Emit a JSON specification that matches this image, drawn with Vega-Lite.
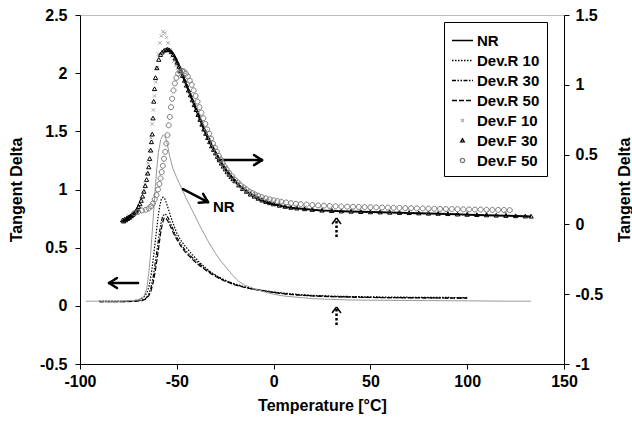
{
  "$schema": "https://vega.github.io/schema/vega-lite/v6.json",
  "width": 484,
  "height": 349,
  "autosize": {"type": "none"},
  "padding": {"left": 80, "top": 15, "right": 68, "bottom": 60},
  "background": "white",
  "config": {
    "view": {"stroke": "#bbbbbb", "strokeWidth": 1},
    "font": "Liberation Sans",
    "axis": {
      "labelFont": "Liberation Sans", "labelFontSize": 16, "labelFontWeight": "bold", "labelColor": "black",
      "titleFont": "Liberation Sans", "titleFontSize": 16, "titleFontWeight": "bold", "titleColor": "black",
      "domainColor": "black", "tickColor": "black", "grid": false, "tickSize": 5, "domainWidth": 1, "tickWidth": 1,
      "labelFlush": false, "labelOverlap": false
    }
  },
  "datasets": {
    "lo": [
      {"s":"NR","t":-97,"v":0.04},{"s":"NR","t":-90,"v":0.04},{"s":"NR","t":-80,"v":0.04},{"s":"NR","t":-75,"v":0.043},{"s":"NR","t":-70,"v":0.05},{"s":"NR","t":-67,"v":0.08},{"s":"NR","t":-65.5,"v":0.15},{"s":"NR","t":-64.5,"v":0.28},{"s":"NR","t":-63.5,"v":0.45},{"s":"NR","t":-62.5,"v":0.68},{"s":"NR","t":-61.5,"v":0.92},{"s":"NR","t":-60.5,"v":1.15},{"s":"NR","t":-59.5,"v":1.32},{"s":"NR","t":-58.3,"v":1.43},{"s":"NR","t":-57,"v":1.47},{"s":"NR","t":-56,"v":1.455},{"s":"NR","t":-55,"v":1.4},{"s":"NR","t":-53.6,"v":1.28},{"s":"NR","t":-52,"v":1.18},{"s":"NR","t":-50,"v":1.1},{"s":"NR","t":-47.5,"v":1.01},{"s":"NR","t":-45,"v":0.92},{"s":"NR","t":-42,"v":0.82},{"s":"NR","t":-38,"v":0.685},{"s":"NR","t":-34,"v":0.56},{"s":"NR","t":-30,"v":0.45},{"s":"NR","t":-27,"v":0.38},{"s":"NR","t":-24,"v":0.32},{"s":"NR","t":-21,"v":0.26},{"s":"NR","t":-18,"v":0.21},{"s":"NR","t":-15,"v":0.18},{"s":"NR","t":-12,"v":0.16},{"s":"NR","t":-8,"v":0.135},{"s":"NR","t":-4,"v":0.117},{"s":"NR","t":0,"v":0.1},{"s":"NR","t":5,"v":0.085},{"s":"NR","t":10,"v":0.077},{"s":"NR","t":15,"v":0.07},{"s":"NR","t":20,"v":0.062},{"s":"NR","t":30,"v":0.055},{"s":"NR","t":40,"v":0.05},{"s":"NR","t":60,"v":0.047},{"s":"NR","t":80,"v":0.045},{"s":"NR","t":100,"v":0.043},{"s":"NR","t":120,"v":0.04},{"s":"NR","t":133,"v":0.04},
      {"s":"Dev.R 10","t":-90,"v":0.04},{"s":"Dev.R 10","t":-85,"v":0.04},{"s":"Dev.R 10","t":-80,"v":0.04},{"s":"Dev.R 10","t":-75,"v":0.042},{"s":"Dev.R 10","t":-72,"v":0.045},{"s":"Dev.R 10","t":-69,"v":0.055},{"s":"Dev.R 10","t":-67,"v":0.075},{"s":"Dev.R 10","t":-65.5,"v":0.11},{"s":"Dev.R 10","t":-64.3,"v":0.17},{"s":"Dev.R 10","t":-63.3,"v":0.26},{"s":"Dev.R 10","t":-62.4,"v":0.37},{"s":"Dev.R 10","t":-61.5,"v":0.5},{"s":"Dev.R 10","t":-60.6,"v":0.63},{"s":"Dev.R 10","t":-59.7,"v":0.76},{"s":"Dev.R 10","t":-58.8,"v":0.86},{"s":"Dev.R 10","t":-58,"v":0.915},{"s":"Dev.R 10","t":-57.1,"v":0.934},{"s":"Dev.R 10","t":-56.2,"v":0.92},{"s":"Dev.R 10","t":-55.3,"v":0.88},{"s":"Dev.R 10","t":-54.3,"v":0.83},{"s":"Dev.R 10","t":-53,"v":0.76},{"s":"Dev.R 10","t":-51.5,"v":0.69},{"s":"Dev.R 10","t":-50,"v":0.625},{"s":"Dev.R 10","t":-48,"v":0.565},{"s":"Dev.R 10","t":-46,"v":0.52},{"s":"Dev.R 10","t":-44,"v":0.48},{"s":"Dev.R 10","t":-42,"v":0.44},{"s":"Dev.R 10","t":-40,"v":0.405},{"s":"Dev.R 10","t":-38,"v":0.37},{"s":"Dev.R 10","t":-35,"v":0.325},{"s":"Dev.R 10","t":-32,"v":0.285},{"s":"Dev.R 10","t":-29,"v":0.255},{"s":"Dev.R 10","t":-26,"v":0.228},{"s":"Dev.R 10","t":-23,"v":0.205},{"s":"Dev.R 10","t":-20,"v":0.188},{"s":"Dev.R 10","t":-16,"v":0.168},{"s":"Dev.R 10","t":-12,"v":0.152},{"s":"Dev.R 10","t":-8,"v":0.14},{"s":"Dev.R 10","t":-4,"v":0.129},{"s":"Dev.R 10","t":0,"v":0.12},{"s":"Dev.R 10","t":5,"v":0.11},{"s":"Dev.R 10","t":10,"v":0.102},{"s":"Dev.R 10","t":15,"v":0.095},{"s":"Dev.R 10","t":20,"v":0.09},{"s":"Dev.R 10","t":30,"v":0.084},{"s":"Dev.R 10","t":40,"v":0.08},{"s":"Dev.R 10","t":50,"v":0.077},{"s":"Dev.R 10","t":60,"v":0.075},{"s":"Dev.R 10","t":70,"v":0.074},{"s":"Dev.R 10","t":80,"v":0.072},{"s":"Dev.R 10","t":90,"v":0.072},{"s":"Dev.R 10","t":100,"v":0.071},
      {"s":"Dev.R 30","t":-90,"v":0.035},{"s":"Dev.R 30","t":-80,"v":0.035},{"s":"Dev.R 30","t":-72,"v":0.04},{"s":"Dev.R 30","t":-68,"v":0.05},{"s":"Dev.R 30","t":-66,"v":0.065},{"s":"Dev.R 30","t":-64.5,"v":0.1},{"s":"Dev.R 30","t":-63.3,"v":0.16},{"s":"Dev.R 30","t":-62.2,"v":0.25},{"s":"Dev.R 30","t":-61.2,"v":0.36},{"s":"Dev.R 30","t":-60.2,"v":0.48},{"s":"Dev.R 30","t":-59.2,"v":0.6},{"s":"Dev.R 30","t":-58.3,"v":0.7},{"s":"Dev.R 30","t":-57.3,"v":0.77},{"s":"Dev.R 30","t":-56.3,"v":0.79},{"s":"Dev.R 30","t":-55.3,"v":0.78},{"s":"Dev.R 30","t":-54.3,"v":0.75},{"s":"Dev.R 30","t":-53,"v":0.7},{"s":"Dev.R 30","t":-51.5,"v":0.64},{"s":"Dev.R 30","t":-50,"v":0.59},{"s":"Dev.R 30","t":-48,"v":0.535},{"s":"Dev.R 30","t":-46,"v":0.485},{"s":"Dev.R 30","t":-44,"v":0.45},{"s":"Dev.R 30","t":-42,"v":0.415},{"s":"Dev.R 30","t":-40,"v":0.385},{"s":"Dev.R 30","t":-38,"v":0.355},{"s":"Dev.R 30","t":-35,"v":0.315},{"s":"Dev.R 30","t":-32,"v":0.28},{"s":"Dev.R 30","t":-29,"v":0.25},{"s":"Dev.R 30","t":-26,"v":0.225},{"s":"Dev.R 30","t":-23,"v":0.205},{"s":"Dev.R 30","t":-20,"v":0.185},{"s":"Dev.R 30","t":-16,"v":0.165},{"s":"Dev.R 30","t":-12,"v":0.15},{"s":"Dev.R 30","t":-8,"v":0.137},{"s":"Dev.R 30","t":-4,"v":0.126},{"s":"Dev.R 30","t":0,"v":0.116},{"s":"Dev.R 30","t":5,"v":0.106},{"s":"Dev.R 30","t":10,"v":0.098},{"s":"Dev.R 30","t":15,"v":0.092},{"s":"Dev.R 30","t":20,"v":0.087},{"s":"Dev.R 30","t":30,"v":0.08},{"s":"Dev.R 30","t":40,"v":0.076},{"s":"Dev.R 30","t":50,"v":0.073},{"s":"Dev.R 30","t":60,"v":0.071},{"s":"Dev.R 30","t":70,"v":0.07},{"s":"Dev.R 30","t":80,"v":0.069},{"s":"Dev.R 30","t":90,"v":0.068},{"s":"Dev.R 30","t":100,"v":0.068},
      {"s":"Dev.R 50","t":-90,"v":0.035},{"s":"Dev.R 50","t":-80,"v":0.035},{"s":"Dev.R 50","t":-72,"v":0.038},{"s":"Dev.R 50","t":-68,"v":0.045},{"s":"Dev.R 50","t":-66,"v":0.058},{"s":"Dev.R 50","t":-64.5,"v":0.085},{"s":"Dev.R 50","t":-63.3,"v":0.13},{"s":"Dev.R 50","t":-62.2,"v":0.2},{"s":"Dev.R 50","t":-61.2,"v":0.29},{"s":"Dev.R 50","t":-60.2,"v":0.4},{"s":"Dev.R 50","t":-59.2,"v":0.52},{"s":"Dev.R 50","t":-58.3,"v":0.63},{"s":"Dev.R 50","t":-57.4,"v":0.71},{"s":"Dev.R 50","t":-56.5,"v":0.757},{"s":"Dev.R 50","t":-55.5,"v":0.75},{"s":"Dev.R 50","t":-54.5,"v":0.725},{"s":"Dev.R 50","t":-53.2,"v":0.68},{"s":"Dev.R 50","t":-51.7,"v":0.625},{"s":"Dev.R 50","t":-50,"v":0.57},{"s":"Dev.R 50","t":-48,"v":0.515},{"s":"Dev.R 50","t":-46,"v":0.47},{"s":"Dev.R 50","t":-44,"v":0.435},{"s":"Dev.R 50","t":-42,"v":0.4},{"s":"Dev.R 50","t":-40,"v":0.37},{"s":"Dev.R 50","t":-38,"v":0.343},{"s":"Dev.R 50","t":-35,"v":0.305},{"s":"Dev.R 50","t":-32,"v":0.272},{"s":"Dev.R 50","t":-29,"v":0.243},{"s":"Dev.R 50","t":-26,"v":0.218},{"s":"Dev.R 50","t":-23,"v":0.198},{"s":"Dev.R 50","t":-20,"v":0.18},{"s":"Dev.R 50","t":-16,"v":0.162},{"s":"Dev.R 50","t":-12,"v":0.147},{"s":"Dev.R 50","t":-8,"v":0.135},{"s":"Dev.R 50","t":-4,"v":0.124},{"s":"Dev.R 50","t":0,"v":0.114},{"s":"Dev.R 50","t":5,"v":0.104},{"s":"Dev.R 50","t":10,"v":0.096},{"s":"Dev.R 50","t":15,"v":0.09},{"s":"Dev.R 50","t":20,"v":0.085},{"s":"Dev.R 50","t":30,"v":0.079},{"s":"Dev.R 50","t":40,"v":0.075},{"s":"Dev.R 50","t":50,"v":0.072},{"s":"Dev.R 50","t":60,"v":0.07},{"s":"Dev.R 50","t":70,"v":0.069},{"s":"Dev.R 50","t":80,"v":0.068},{"s":"Dev.R 50","t":90,"v":0.067},{"s":"Dev.R 50","t":100,"v":0.067}
    ],
    "hi": [
      {"s":"Dev.F 10","t":-75,"v":0.06},{"s":"Dev.F 10","t":-73,"v":0.07},{"s":"Dev.F 10","t":-71,"v":0.09},{"s":"Dev.F 10","t":-69.5,"v":0.13},{"s":"Dev.F 10","t":-68.3,"v":0.18},{"s":"Dev.F 10","t":-67.3,"v":0.23},{"s":"Dev.F 10","t":-66.4,"v":0.29},{"s":"Dev.F 10","t":-65.6,"v":0.36},{"s":"Dev.F 10","t":-64.8,"v":0.44},{"s":"Dev.F 10","t":-64.1,"v":0.53},{"s":"Dev.F 10","t":-63.4,"v":0.62},{"s":"Dev.F 10","t":-62.7,"v":0.72},{"s":"Dev.F 10","t":-62.1,"v":0.82},{"s":"Dev.F 10","t":-61.5,"v":0.92},{"s":"Dev.F 10","t":-60.9,"v":1.02},{"s":"Dev.F 10","t":-60.2,"v":1.12},{"s":"Dev.F 10","t":-59.5,"v":1.22},{"s":"Dev.F 10","t":-58.8,"v":1.3},{"s":"Dev.F 10","t":-58,"v":1.35},{"s":"Dev.F 10","t":-57.1,"v":1.38},{"s":"Dev.F 10","t":-56.2,"v":1.37},{"s":"Dev.F 10","t":-55.3,"v":1.34},{"s":"Dev.F 10","t":-54.5,"v":1.3},{"s":"Dev.F 10","t":-53.5,"v":1.25},{"s":"Dev.F 10","t":-52.5,"v":1.205},{"s":"Dev.F 10","t":-51.5,"v":1.17},{"s":"Dev.F 10","t":-50.5,"v":1.14},{"s":"Dev.F 10","t":-49.5,"v":1.12},{"s":"Dev.F 10","t":-48.5,"v":1.1},{"s":"Dev.F 10","t":-47,"v":1.07},{"s":"Dev.F 10","t":-45,"v":1.01},{"s":"Dev.F 10","t":-43,"v":0.945},{"s":"Dev.F 10","t":-41,"v":0.875},{"s":"Dev.F 10","t":-39,"v":0.805},{"s":"Dev.F 10","t":-37,"v":0.735},{"s":"Dev.F 10","t":-35,"v":0.67},{"s":"Dev.F 10","t":-33,"v":0.61},{"s":"Dev.F 10","t":-31,"v":0.555},{"s":"Dev.F 10","t":-29,"v":0.5},{"s":"Dev.F 10","t":-27,"v":0.455},{"s":"Dev.F 10","t":-25,"v":0.41},{"s":"Dev.F 10","t":-23,"v":0.375},{"s":"Dev.F 10","t":-21,"v":0.34},{"s":"Dev.F 10","t":-18,"v":0.3},{"s":"Dev.F 10","t":-15,"v":0.262},{"s":"Dev.F 10","t":-12,"v":0.232},{"s":"Dev.F 10","t":-9,"v":0.208},{"s":"Dev.F 10","t":-6,"v":0.188},{"s":"Dev.F 10","t":-3,"v":0.172},{"s":"Dev.F 10","t":0,"v":0.16},{"s":"Dev.F 10","t":4,"v":0.146},{"s":"Dev.F 10","t":8,"v":0.136},{"s":"Dev.F 10","t":12,"v":0.128},{"s":"Dev.F 10","t":16,"v":0.122},{"s":"Dev.F 10","t":20,"v":0.117},{"s":"Dev.F 10","t":25,"v":0.112},{"s":"Dev.F 10","t":30,"v":0.108},{"s":"Dev.F 10","t":40,"v":0.102},{"s":"Dev.F 10","t":50,"v":0.098},{"s":"Dev.F 10","t":60,"v":0.095},{"s":"Dev.F 10","t":70,"v":0.092},{"s":"Dev.F 10","t":80,"v":0.09},{"s":"Dev.F 10","t":90,"v":0.088},{"s":"Dev.F 10","t":100,"v":0.086},{"s":"Dev.F 10","t":110,"v":0.084},{"s":"Dev.F 10","t":120,"v":0.082},
      {"s":"Dev.F 30","t":-78,"v":0.03},{"s":"Dev.F 30","t":-77.5,"v":0.022},{"s":"Dev.F 30","t":-77,"v":0.035},{"s":"Dev.F 30","t":-76.5,"v":0.03},{"s":"Dev.F 30","t":-76,"v":0.042},{"s":"Dev.F 30","t":-75.5,"v":0.04},{"s":"Dev.F 30","t":-75,"v":0.05},{"s":"Dev.F 30","t":-74.5,"v":0.048},{"s":"Dev.F 30","t":-74,"v":0.058},{"s":"Dev.F 30","t":-73.5,"v":0.06},{"s":"Dev.F 30","t":-73,"v":0.068},{"s":"Dev.F 30","t":-72.5,"v":0.072},{"s":"Dev.F 30","t":-72,"v":0.08},{"s":"Dev.F 30","t":-71.5,"v":0.086},{"s":"Dev.F 30","t":-71,"v":0.095},{"s":"Dev.F 30","t":-70.5,"v":0.107},{"s":"Dev.F 30","t":-69.8,"v":0.125},{"s":"Dev.F 30","t":-69.1,"v":0.145},{"s":"Dev.F 30","t":-68.4,"v":0.17},{"s":"Dev.F 30","t":-67.7,"v":0.2},{"s":"Dev.F 30","t":-67,"v":0.235},{"s":"Dev.F 30","t":-66.3,"v":0.275},{"s":"Dev.F 30","t":-65.6,"v":0.32},{"s":"Dev.F 30","t":-65,"v":0.365},{"s":"Dev.F 30","t":-64.5,"v":0.41},{"s":"Dev.F 30","t":-64,"v":0.47},{"s":"Dev.F 30","t":-63.5,"v":0.53},{"s":"Dev.F 30","t":-63.1,"v":0.59},{"s":"Dev.F 30","t":-62.7,"v":0.645},{"s":"Dev.F 30","t":-62.3,"v":0.76},{"s":"Dev.F 30","t":-61.9,"v":0.88},{"s":"Dev.F 30","t":-61.5,"v":0.97},{"s":"Dev.F 30","t":-61,"v":1.05},{"s":"Dev.F 30","t":-60.3,"v":1.12},{"s":"Dev.F 30","t":-59.3,"v":1.18},{"s":"Dev.F 30","t":-58.4,"v":1.215},{"s":"Dev.F 30","t":-57.6,"v":1.232},{"s":"Dev.F 30","t":-56.5,"v":1.245},{"s":"Dev.F 30","t":-55.5,"v":1.25},{"s":"Dev.F 30","t":-54.7,"v":1.253},{"s":"Dev.F 30","t":-53.8,"v":1.248},{"s":"Dev.F 30","t":-52.8,"v":1.235},{"s":"Dev.F 30","t":-51.8,"v":1.215},{"s":"Dev.F 30","t":-50.8,"v":1.19},{"s":"Dev.F 30","t":-49.8,"v":1.16},{"s":"Dev.F 30","t":-48.8,"v":1.13},{"s":"Dev.F 30","t":-48,"v":1.1},{"s":"Dev.F 30","t":-47,"v":1.065},{"s":"Dev.F 30","t":-46,"v":1.03},{"s":"Dev.F 30","t":-45,"v":0.995},{"s":"Dev.F 30","t":-44,"v":0.96},{"s":"Dev.F 30","t":-43,"v":0.925},{"s":"Dev.F 30","t":-42,"v":0.89},{"s":"Dev.F 30","t":-41,"v":0.855},{"s":"Dev.F 30","t":-40,"v":0.82},{"s":"Dev.F 30","t":-39,"v":0.785},{"s":"Dev.F 30","t":-38,"v":0.75},{"s":"Dev.F 30","t":-37,"v":0.715},{"s":"Dev.F 30","t":-36,"v":0.68},{"s":"Dev.F 30","t":-35,"v":0.65},{"s":"Dev.F 30","t":-34,"v":0.62},{"s":"Dev.F 30","t":-33,"v":0.59},{"s":"Dev.F 30","t":-32,"v":0.56},{"s":"Dev.F 30","t":-31,"v":0.535},{"s":"Dev.F 30","t":-30,"v":0.51},{"s":"Dev.F 30","t":-29,"v":0.485},{"s":"Dev.F 30","t":-28,"v":0.46},{"s":"Dev.F 30","t":-27,"v":0.437},{"s":"Dev.F 30","t":-26,"v":0.415},{"s":"Dev.F 30","t":-25,"v":0.395},{"s":"Dev.F 30","t":-24,"v":0.375},{"s":"Dev.F 30","t":-23,"v":0.357},{"s":"Dev.F 30","t":-22,"v":0.34},{"s":"Dev.F 30","t":-21,"v":0.325},{"s":"Dev.F 30","t":-20,"v":0.31},{"s":"Dev.F 30","t":-18,"v":0.28},{"s":"Dev.F 30","t":-16,"v":0.255},{"s":"Dev.F 30","t":-14,"v":0.235},{"s":"Dev.F 30","t":-12,"v":0.215},{"s":"Dev.F 30","t":-10,"v":0.2},{"s":"Dev.F 30","t":-8,"v":0.185},{"s":"Dev.F 30","t":-6,"v":0.172},{"s":"Dev.F 30","t":-4,"v":0.162},{"s":"Dev.F 30","t":-2,"v":0.153},{"s":"Dev.F 30","t":0,"v":0.145},{"s":"Dev.F 30","t":3,"v":0.135},{"s":"Dev.F 30","t":6,"v":0.127},{"s":"Dev.F 30","t":9,"v":0.12},{"s":"Dev.F 30","t":12,"v":0.115},{"s":"Dev.F 30","t":16,"v":0.11},{"s":"Dev.F 30","t":20,"v":0.105},{"s":"Dev.F 30","t":25,"v":0.1},{"s":"Dev.F 30","t":30,"v":0.097},{"s":"Dev.F 30","t":35,"v":0.094},{"s":"Dev.F 30","t":40,"v":0.092},{"s":"Dev.F 30","t":45,"v":0.09},{"s":"Dev.F 30","t":50,"v":0.088},{"s":"Dev.F 30","t":55,"v":0.087},{"s":"Dev.F 30","t":60,"v":0.085},{"s":"Dev.F 30","t":65,"v":0.083},{"s":"Dev.F 30","t":70,"v":0.082},{"s":"Dev.F 30","t":75,"v":0.08},{"s":"Dev.F 30","t":80,"v":0.078},{"s":"Dev.F 30","t":85,"v":0.077},{"s":"Dev.F 30","t":90,"v":0.075},{"s":"Dev.F 30","t":95,"v":0.072},{"s":"Dev.F 30","t":100,"v":0.07},{"s":"Dev.F 30","t":105,"v":0.068},{"s":"Dev.F 30","t":110,"v":0.066},{"s":"Dev.F 30","t":115,"v":0.064},{"s":"Dev.F 30","t":120,"v":0.062},{"s":"Dev.F 30","t":125,"v":0.06},{"s":"Dev.F 30","t":130,"v":0.058},{"s":"Dev.F 30","t":133,"v":0.057},
      {"s":"Dev.F 50","t":-72,"v":0.08},{"s":"Dev.F 50","t":-70,"v":0.09},{"s":"Dev.F 50","t":-68,"v":0.1},{"s":"Dev.F 50","t":-66,"v":0.105},{"s":"Dev.F 50","t":-64.5,"v":0.115},{"s":"Dev.F 50","t":-63.3,"v":0.13},{"s":"Dev.F 50","t":-62.3,"v":0.15},{"s":"Dev.F 50","t":-61.4,"v":0.18},{"s":"Dev.F 50","t":-60.5,"v":0.21},{"s":"Dev.F 50","t":-59.7,"v":0.25},{"s":"Dev.F 50","t":-59,"v":0.29},{"s":"Dev.F 50","t":-58.4,"v":0.33},{"s":"Dev.F 50","t":-57.8,"v":0.375},{"s":"Dev.F 50","t":-57.2,"v":0.42},{"s":"Dev.F 50","t":-56.6,"v":0.47},{"s":"Dev.F 50","t":-56,"v":0.52},{"s":"Dev.F 50","t":-55.4,"v":0.58},{"s":"Dev.F 50","t":-54.8,"v":0.64},{"s":"Dev.F 50","t":-54.2,"v":0.71},{"s":"Dev.F 50","t":-53.6,"v":0.77},{"s":"Dev.F 50","t":-53,"v":0.84},{"s":"Dev.F 50","t":-52.4,"v":0.9},{"s":"Dev.F 50","t":-51.7,"v":0.96},{"s":"Dev.F 50","t":-51,"v":1.01},{"s":"Dev.F 50","t":-50.2,"v":1.05},{"s":"Dev.F 50","t":-49.3,"v":1.08},{"s":"Dev.F 50","t":-48.3,"v":1.095},{"s":"Dev.F 50","t":-47.3,"v":1.1},{"s":"Dev.F 50","t":-46.3,"v":1.095},{"s":"Dev.F 50","t":-45.3,"v":1.08},{"s":"Dev.F 50","t":-44.3,"v":1.06},{"s":"Dev.F 50","t":-43.3,"v":1.03},{"s":"Dev.F 50","t":-42.3,"v":1.0},{"s":"Dev.F 50","t":-41.3,"v":0.96},{"s":"Dev.F 50","t":-40.3,"v":0.92},{"s":"Dev.F 50","t":-39.3,"v":0.88},{"s":"Dev.F 50","t":-38.3,"v":0.84},{"s":"Dev.F 50","t":-37.3,"v":0.8},{"s":"Dev.F 50","t":-36.3,"v":0.76},{"s":"Dev.F 50","t":-35.3,"v":0.72},{"s":"Dev.F 50","t":-34.3,"v":0.68},{"s":"Dev.F 50","t":-33.3,"v":0.65},{"s":"Dev.F 50","t":-32.3,"v":0.615},{"s":"Dev.F 50","t":-31.3,"v":0.58},{"s":"Dev.F 50","t":-30.3,"v":0.55},{"s":"Dev.F 50","t":-29.3,"v":0.52},{"s":"Dev.F 50","t":-28.3,"v":0.49},{"s":"Dev.F 50","t":-27.3,"v":0.465},{"s":"Dev.F 50","t":-26.3,"v":0.44},{"s":"Dev.F 50","t":-25.3,"v":0.415},{"s":"Dev.F 50","t":-24.3,"v":0.395},{"s":"Dev.F 50","t":-23,"v":0.37},{"s":"Dev.F 50","t":-21.5,"v":0.345},{"s":"Dev.F 50","t":-20,"v":0.32},{"s":"Dev.F 50","t":-18.5,"v":0.3},{"s":"Dev.F 50","t":-17,"v":0.28},{"s":"Dev.F 50","t":-15.5,"v":0.265},{"s":"Dev.F 50","t":-14,"v":0.25},{"s":"Dev.F 50","t":-12.5,"v":0.235},{"s":"Dev.F 50","t":-11,"v":0.225},{"s":"Dev.F 50","t":-9.5,"v":0.214},{"s":"Dev.F 50","t":-8,"v":0.205},{"s":"Dev.F 50","t":-6,"v":0.195},{"s":"Dev.F 50","t":-4,"v":0.187},{"s":"Dev.F 50","t":-2,"v":0.18},{"s":"Dev.F 50","t":0,"v":0.173},{"s":"Dev.F 50","t":2,"v":0.167},{"s":"Dev.F 50","t":4,"v":0.162},{"s":"Dev.F 50","t":6.5,"v":0.157},{"s":"Dev.F 50","t":9,"v":0.152},{"s":"Dev.F 50","t":11.5,"v":0.148},{"s":"Dev.F 50","t":14,"v":0.145},{"s":"Dev.F 50","t":17,"v":0.142},{"s":"Dev.F 50","t":20,"v":0.139},{"s":"Dev.F 50","t":23,"v":0.136},{"s":"Dev.F 50","t":26,"v":0.134},{"s":"Dev.F 50","t":29,"v":0.132},{"s":"Dev.F 50","t":32,"v":0.13},{"s":"Dev.F 50","t":35,"v":0.128},{"s":"Dev.F 50","t":38,"v":0.127},{"s":"Dev.F 50","t":41,"v":0.126},{"s":"Dev.F 50","t":44,"v":0.125},{"s":"Dev.F 50","t":47,"v":0.124},{"s":"Dev.F 50","t":50,"v":0.123},{"s":"Dev.F 50","t":53,"v":0.122},{"s":"Dev.F 50","t":56,"v":0.121},{"s":"Dev.F 50","t":59,"v":0.12},{"s":"Dev.F 50","t":62,"v":0.119},{"s":"Dev.F 50","t":65,"v":0.118},{"s":"Dev.F 50","t":68,"v":0.117},{"s":"Dev.F 50","t":71,"v":0.116},{"s":"Dev.F 50","t":74,"v":0.115},{"s":"Dev.F 50","t":77,"v":0.114},{"s":"Dev.F 50","t":80,"v":0.113},{"s":"Dev.F 50","t":83,"v":0.112},{"s":"Dev.F 50","t":86,"v":0.111},{"s":"Dev.F 50","t":89,"v":0.11},{"s":"Dev.F 50","t":92,"v":0.11},{"s":"Dev.F 50","t":95,"v":0.109},{"s":"Dev.F 50","t":98,"v":0.108},{"s":"Dev.F 50","t":101,"v":0.107},{"s":"Dev.F 50","t":104,"v":0.106},{"s":"Dev.F 50","t":107,"v":0.106},{"s":"Dev.F 50","t":110,"v":0.105},{"s":"Dev.F 50","t":113,"v":0.104},{"s":"Dev.F 50","t":116,"v":0.104},{"s":"Dev.F 50","t":119,"v":0.103},{"s":"Dev.F 50","t":122,"v":0.102}
    ],
    "arrows": [
      {"t":-46.8,"v":1.004,"t2":-33.9,"v2":0.892},
      {"t":-38.7,"v":0.886,"t2":-33.9,"v2":0.892},
      {"t":-36.4,"v":0.962,"t2":-33.9,"v2":0.892},
      {"t":-28.7,"v":1.253,"t2":-6.0,"v2":1.253},
      {"t":-10.1,"v":1.296,"t2":-6.0,"v2":1.253},
      {"t":-10.1,"v":1.21,"t2":-6.0,"v2":1.253},
      {"t":-70.0,"v":0.196,"t2":-85.0,"v2":0.196},
      {"t":-80.9,"v":0.239,"t2":-85.0,"v2":0.196},
      {"t":-80.9,"v":0.153,"t2":-85.0,"v2":0.196}
    ],
    "dshaft": [
      {"t":32.5,"v":0.591,"t2":32.5,"v2":0.755},
      {"t":32.5,"v":-0.165,"t2":32.5,"v2":-0.01}
    ],
    "dhead": [
      {"t":30.2,"v":0.703,"t2":32.5,"v2":0.755},
      {"t":34.8,"v":0.703,"t2":32.5,"v2":0.755},
      {"t":30.2,"v":-0.062,"t2":32.5,"v2":-0.01},
      {"t":34.8,"v":-0.062,"t2":32.5,"v2":-0.01}
    ],
    "labels": [{"t":-31.3,"v":0.849,"txt":"NR"}]
  },
  "layer": [
    {
      "layer": [
        {
          "data": {"name": "lo"},
          "transform": [{"filter": "datum.s !== 'NR'"}],
          "mark": {"type": "line", "strokeWidth": 1.2, "clip": true},
          "encoding": {
            "x": {"field": "t", "type": "quantitative", "scale": {"domain": [-100, 150], "nice": false},
                  "axis": {"values": [-100, -50, 0, 50, 100, 150], "labelExpr": "datum.value + ''", "title": "Temperature [°C]", "labelPadding": 4, "titlePadding": 8}},
            "y": {"field": "v", "type": "quantitative", "scale": {"domain": [-0.5, 2.5], "nice": false},
                  "axis": {"values": [-0.5, 0, 0.5, 1, 1.5, 2, 2.5], "labelExpr": "datum.value + ''", "title": "Tangent Delta", "labelPadding": 8, "titlePadding": 15}},
            "color": {"field": "s", "type": "nominal",
                      "scale": {"domain": ["NR", "Dev.R 10", "Dev.R 30", "Dev.R 50", "Dev.F 10", "Dev.F 30", "Dev.F 50"], "range": ["#000000", "#000000", "#000000", "#000000", "#aaaaaa", "#000000", "#777777"]},
                      "legend": {"title": null, "orient": "none", "legendX": 364, "legendY": 7, "direction": "vertical", "strokeColor": "black", "fillColor": "white", "padding": 7, "labelFont": "Liberation Sans", "labelFontSize": 15, "labelFontWeight": "bold", "labelColor": "black", "labelOffset": 3, "rowPadding": 0, "symbolStrokeWidth": 1.3, "symbolSize": 441, "labelLimit": 200}},
            "strokeDash": {"field": "s", "type": "nominal",
                      "scale": {"domain": ["NR", "Dev.R 10", "Dev.R 30", "Dev.R 50", "Dev.F 10", "Dev.F 30", "Dev.F 50"], "range": [[1, 0], [1.5, 1.5], [4, 1.5, 1.5, 1.5, 1.5, 1.5], [5, 2], [1, 0], [1, 0], [1, 0]]},
                      "legend": {"title": null, "orient": "none", "legendX": 364, "legendY": 7, "direction": "vertical", "strokeColor": "black", "fillColor": "white", "padding": 7, "labelFont": "Liberation Sans", "labelFontSize": 15, "labelFontWeight": "bold", "labelColor": "black", "labelOffset": 3, "rowPadding": 0, "symbolStrokeWidth": 1.3, "symbolSize": 441, "labelLimit": 200}}
          }
        },
        {
          "data": {"name": "lo"},
          "transform": [{"filter": "datum.s === 'NR'"}],
          "mark": {"type": "line", "strokeWidth": 1, "color": "#9a9a9a", "clip": true},
          "encoding": {
            "x": {"field": "t", "type": "quantitative"},
            "y": {"field": "v", "type": "quantitative"}
          }
        },
        {
          "data": {"name": "arrows"},
          "mark": {"type": "rule", "strokeWidth": 2.5, "color": "black", "strokeCap": "round"},
          "encoding": {
            "x": {"field": "t", "type": "quantitative"},
            "y": {"field": "v", "type": "quantitative"},
            "x2": {"field": "t2"},
            "y2": {"field": "v2"}
          }
        },
        {
          "data": {"name": "dshaft"},
          "mark": {"type": "rule", "strokeWidth": 2.5, "color": "black", "strokeDash": [2.5, 2]},
          "encoding": {
            "x": {"field": "t", "type": "quantitative"},
            "y": {"field": "v", "type": "quantitative"},
            "x2": {"field": "t2"},
            "y2": {"field": "v2"}
          }
        },
        {
          "data": {"name": "dhead"},
          "mark": {"type": "rule", "strokeWidth": 1.5, "color": "black"},
          "encoding": {
            "x": {"field": "t", "type": "quantitative"},
            "y": {"field": "v", "type": "quantitative"},
            "x2": {"field": "t2"},
            "y2": {"field": "v2"}
          }
        },
        {
          "data": {"name": "labels"},
          "mark": {"type": "text", "align": "left", "baseline": "middle", "font": "Liberation Sans", "fontSize": 15, "fontWeight": "bold", "color": "black"},
          "encoding": {
            "x": {"field": "t", "type": "quantitative"},
            "y": {"field": "v", "type": "quantitative"},
            "text": {"field": "txt"}
          }
        }
      ]
    },
    {
      "layer": [
        {
          "data": {"name": "hi"},
          "transform": [{"filter": "datum.s === 'Dev.F 30' && datum.t >= -56"}],
          "mark": {"type": "line", "strokeWidth": 2, "color": "black", "clip": true},
          "encoding": {
            "x": {"field": "t", "type": "quantitative"},
            "y": {"field": "v", "type": "quantitative", "scale": {"domain": [-1, 1.5], "nice": false},
                  "axis": {"orient": "right", "values": [-1, -0.5, 0, 0.5, 1, 1.5], "labelExpr": "datum.value + ''", "title": "Tangent Delta", "titleAngle": 270, "labelPadding": 6, "titlePadding": 30}}
          }
        },
        {
          "data": {"name": "hi"},
          "mark": {"type": "point", "filled": false, "strokeWidth": 1, "opacity": 1, "size": 625, "clip": true},
          "encoding": {
            "x": {"field": "t", "type": "quantitative"},
            "y": {"field": "v", "type": "quantitative"},
            "color": {"field": "s", "type": "nominal",
                      "legend": {"title": null, "orient": "none", "legendX": 364, "legendY": 7, "direction": "vertical", "strokeColor": "black", "fillColor": "white", "padding": 7, "labelFont": "Liberation Sans", "labelFontSize": 15, "labelFontWeight": "bold", "labelColor": "black", "labelOffset": 3, "rowPadding": 0, "symbolStrokeWidth": 1.3, "symbolSize": 441, "labelLimit": 200}},
            "shape": {"field": "s", "type": "nominal",
                      "scale": {"domain": ["NR", "Dev.R 10", "Dev.R 30", "Dev.R 50", "Dev.F 10", "Dev.F 30", "Dev.F 50"], "range": ["stroke", "stroke", "stroke", "stroke", "M-0.14,-0.14L0.14,0.14M0.14,-0.14L-0.14,0.14", "M0,-0.17L0.17,0.13L-0.17,0.13Z", "M-0.2,0A0.2,0.2,0,1,0,0.2,0A0.2,0.2,0,1,0,-0.2,0Z"]},
                      "legend": {"title": null, "orient": "none", "legendX": 364, "legendY": 7, "direction": "vertical", "strokeColor": "black", "fillColor": "white", "padding": 7, "labelFont": "Liberation Sans", "labelFontSize": 15, "labelFontWeight": "bold", "labelColor": "black", "labelOffset": 3, "rowPadding": 0, "symbolStrokeWidth": 1.3, "symbolSize": 441, "labelLimit": 200}}
          }
        }
      ]
    }
  ],
  "resolve": {"scale": {"y": "independent"}}
}
